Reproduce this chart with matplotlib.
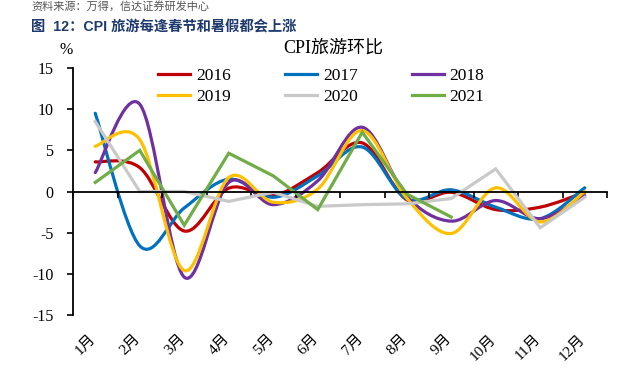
import numpy as np
import matplotlib
matplotlib.use("Agg")
import matplotlib.pyplot as plt
from matplotlib.path import Path
from matplotlib.patches import PathPatch
from matplotlib.lines import Line2D
import matplotlib.transforms as mtransforms

# values (CPI travel, month on month, %)
months = ['1月', '2月', '3月', '4月', '5月', '6月', '7月', '8月', '9月', '10月', '11月', '12月']
y2016 = [3.6, 2.9, -4.8, 0.4, -0.5, 2.3, 5.9, -1.0, -0.1, -2.2, -1.9, -0.1]
y2017 = [9.5, -6.6, -2.0, 1.5, -0.7, 1.9, 5.4, -0.9, 0.2, -1.9, -3.3, 0.45]
y2018 = [2.3, 10.6, -10.4, 1.1, -1.6, 1.3, 7.8, -0.6, -3.6, -1.1, -3.3, -0.5]
y2019 = [5.5, 6.3, -9.6, 1.7, -1.3, 0.3, 7.4, -0.8, -5.1, 0.45, -3.7, 0.0]
y2020 = [8.5, 0.0, 0.0, -1.2, -0.1, -1.8, -1.6, -1.5, -0.85, 2.75, -4.4, -0.7]
y2021 = [1.1, 5.0, -4.1, 4.65, 1.9, -2.2, 7.2, -0.3, -3.1]

series = [
    ('2016', y2016, '#C00000', True),
    ('2017', y2017, '#0070C0', True),
    ('2018', y2018, '#7030A0', True),
    ('2019', y2019, '#FFC000', True),
    ('2020', y2020, '#C9C9C9', False),
    ('2021', y2021, '#70AD47', False),
]

plt.rcParams['font.family'] = ['Liberation Serif', 'Noto Sans CJK SC']
plt.rcParams['axes.unicode_minus'] = False


def smooth_path(xs, ys):
    # excel style smoothed line: cubic bezier through every point
    pts = np.column_stack([xs, ys]).astype(float)
    n = len(pts)
    verts = [pts[0]]
    codes = [Path.MOVETO]
    for i in range(n - 1):
        p0 = pts[i - 1] if i > 0 else pts[i]
        p1 = pts[i]
        p2 = pts[i + 1]
        p3 = pts[i + 2] if i + 2 < n else pts[i + 1]
        c1 = p1 + (p2 - p0) / 6.0
        c2 = p2 - (p3 - p1) / 6.0
        verts += [c1, c2, p2]
        codes += [Path.CURVE4] * 3
    return Path(verts, codes)


fig = plt.figure(figsize=(6.18, 3.77), dpi=100)
ax = fig.add_axes([73 / 618, 1 - 315 / 377, 534 / 618, 247 / 377])

handles = []
for name, vals, col, smooth in series:
    xs = np.arange(1, len(vals) + 1)
    if smooth:
        patch = PathPatch(smooth_path(xs, vals), facecolor='none', edgecolor=col,
                          lw=2.3, capstyle='round', joinstyle='round')
        ax.add_patch(patch)
    else:
        ax.plot(xs, vals, color=col, lw=2.3, solid_joinstyle='miter')
    handles.append(Line2D([0], [0], color=col, lw=2.3))

ax.set_xlim(0.5, 12.5)
ax.set_ylim(-15, 15)
ax.set_yticks([-15, -10, -5, 0, 5, 10, 15])
ax.set_yticklabels(['-15', '-10', '-5', '0', '5', '10', '15'], fontsize=11.5)

ax.spines['top'].set_visible(False)
ax.spines['right'].set_visible(False)
ax.spines['bottom'].set_position(('data', 0))
ax.spines['left'].set_linewidth(1.3)
ax.spines['bottom'].set_linewidth(1.3)
ax.set_xticks(np.arange(0.5, 13.0, 1.0))
ax.set_xticklabels([])
ax.tick_params(axis='x', direction='out', length=4, width=1.2)
ax.tick_params(axis='y', direction='out', length=4, width=1.2, pad=10)

trans = mtransforms.blended_transform_factory(ax.transData, ax.transAxes)
for i, m in enumerate(months):
    ax.text(i + 1 + 0.07, -0.07, m, transform=trans, rotation=45,
            ha='right', va='top', fontsize=11)

order = [0, 3, 1, 4, 2, 5]
leg = ax.legend([handles[k] for k in order], [series[k][0] for k in order],
                ncol=3, frameon=False, fontsize=12.5, handlelength=1.85,
                handletextpad=0.35, columnspacing=3.1, labelspacing=0.25,
                loc='upper left', bbox_to_anchor=(85 / 534, 1 + 0 / 247),
                borderaxespad=0, borderpad=0)

fig.text(333 / 618, 1 - 48 / 377, 'CPI旅游环比', ha='center', va='center', fontsize=13)
fig.text(66 / 618, 1 - 50 / 377, '%', ha='center', va='center', fontsize=11.5)

fig.text(31 / 618, 1 - 27 / 377, '图  12：CPI 旅游每逢春节和暑假都会上涨',
         ha='left', va='center', fontsize=10.3, fontweight='bold', color='#1F3A6E',
         family=['Liberation Sans', 'Noto Sans CJK SC'])
fig.text(31 / 618, 1 - 0.5 / 377, '资料来源：万得，信达证券研发中心',
         ha='left', va='top', fontsize=8, color='#555555', style='italic',
         family=['Noto Sans CJK SC', 'DejaVu Sans'])

fig.savefig('out.png', dpi=100)
